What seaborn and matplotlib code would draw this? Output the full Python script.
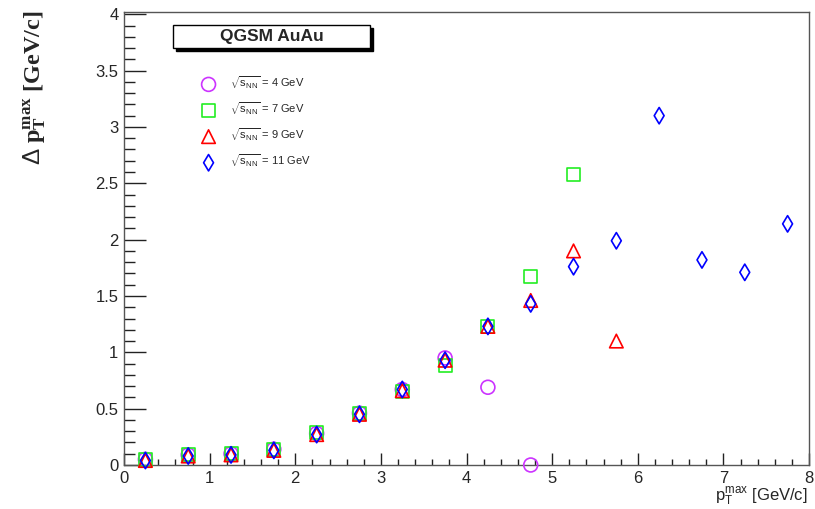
import numpy as np
import pandas as pd
import seaborn as sns
import matplotlib
matplotlib.use("Agg")
import matplotlib.pyplot as plt
from matplotlib.ticker import MultipleLocator, FuncFormatter
from matplotlib.patches import Rectangle

# p_T^max bin centres [GeV/c]
pt_bins = [0.25, 0.75, 1.25, 1.75, 2.25, 2.75, 3.25, 3.75,
           4.25, 4.75, 5.25, 5.75, 6.25, 6.75, 7.25, 7.75]

# Delta p_T^max [GeV/c] for each collision energy
dpt_4gev = [0.05, 0.09, 0.10, 0.14, 0.28, 0.46, 0.67, 0.95, 0.69, 0.0]
dpt_7gev = [0.05, 0.09, 0.10, 0.14, 0.29, 0.46, 0.65, 0.88, 1.23, 1.67, 2.58]
dpt_9gev = [0.04, 0.08, 0.09, 0.13, 0.27, 0.45, 0.66, 0.93, 1.23, 1.46, 1.90, 1.10]
dpt_11gev = [0.04, 0.08, 0.09, 0.13, 0.27, 0.45, 0.67, 0.93, 1.23, 1.43,
             1.76, 1.99, 3.10, 1.82, 1.71, 2.14]

energies = ["4", "7", "9", "11"]
title_text = "QGSM AuAu"

sns.set_theme(style="white")
plt.rcParams["font.family"] = ["Liberation Sans", "DejaVu Sans"]
plt.rcParams["mathtext.fontset"] = "custom"
plt.rcParams["mathtext.rm"] = "Liberation Sans"
plt.rcParams["mathtext.it"] = "Liberation Sans:italic"
plt.rcParams["mathtext.bf"] = "Liberation Serif:bold"

fig = plt.figure(figsize=(8.15, 5.09), dpi=100)
ax = fig.add_axes([124 / 815, 44 / 509, 685 / 815, 453 / 509])

series = [
    (dpt_4gev, "o", "#cc33ff", 100),
    (dpt_7gev, "s", "#22ee22", 88),
    (dpt_9gev, "^", "#ff0000", 95),
    (dpt_11gev, "d", "#0000ff", 70),
]

for (vals, mk, col, size), e in zip(series, energies):
    df = pd.DataFrame({"pt": pt_bins[:len(vals)], "dpt": vals})
    sns.scatterplot(data=df, x="pt", y="dpt", marker=mk, s=size,
                    facecolors="none", edgecolor=col, linewidth=1.2,
                    label=r"$\sqrt{\mathrm{s}_{\mathrm{NN}}}$ = " + e + " GeV",
                    ax=ax, clip_on=False, zorder=3)

ax.set_xlim(0, 8)
ax.set_ylim(0, 4.02)
ax.xaxis.set_major_locator(MultipleLocator(1))
ax.xaxis.set_minor_locator(MultipleLocator(0.2))
ax.yaxis.set_major_locator(MultipleLocator(0.5))
ax.yaxis.set_minor_locator(MultipleLocator(0.1))
fmt = FuncFormatter(lambda v, p: "%g" % v)
ax.xaxis.set_major_formatter(fmt)
ax.yaxis.set_major_formatter(fmt)

ax.tick_params(axis="x", which="major", direction="in", length=9, width=1,
               color="#222222", labelsize=12, pad=4, bottom=True, top=False)
ax.tick_params(axis="x", which="minor", direction="in", length=4.5, width=1,
               color="#222222", bottom=True, top=False)
ax.tick_params(axis="y", which="major", direction="in", length=16, width=1,
               color="#222222", labelsize=12, pad=4, left=True, right=False)
ax.tick_params(axis="y", which="minor", direction="in", length=8, width=1,
               color="#222222", left=True, right=False)
for s in ax.spines.values():
    s.set_color("#555555")
    s.set_linewidth(1.0)

ax.set_xlabel("")
ax.set_ylabel("")

fig.text(808 / 815, 1 - 497 / 509,
         r"p$_{\mathrm{T}}^{\mathrm{max}}$ [GeV/c]",
         ha="right", va="center", fontsize=12)
fig.text(35 / 815, 1 - 88 / 509,
         r"$\Delta$ $\mathbf{p_{T}^{max}}$ [GeV/c]",
         rotation=90, ha="center", va="center", fontsize=17.5,
         family=["Liberation Serif", "DejaVu Serif"], weight="bold")

# title box with drop shadow
fx0, fy0 = 173 / 815, 1 - 48 / 509
fw, fh = 197 / 815, 23 / 509
fig.patches.append(Rectangle((fx0 + 3 / 815, fy0 - 3 / 509), fw, fh,
                             transform=fig.transFigure, facecolor="black",
                             edgecolor="black", zorder=5))
fig.patches.append(Rectangle((fx0, fy0), fw, fh, transform=fig.transFigure,
                             facecolor="white", edgecolor="black",
                             linewidth=1, zorder=6))
fig.text(fx0 + fw / 2, fy0 + fh / 2, title_text, ha="center", va="center",
         fontsize=12.5, weight="bold", zorder=7)

leg = ax.legend(loc="upper left", bbox_to_anchor=(69 / 685, 1 - 58 / 453),
                frameon=False, fontsize=8, labelspacing=0.85,
                handletextpad=0.9, borderaxespad=0, scatterpoints=1)

fig.savefig("out.png", dpi=100, facecolor="white")
